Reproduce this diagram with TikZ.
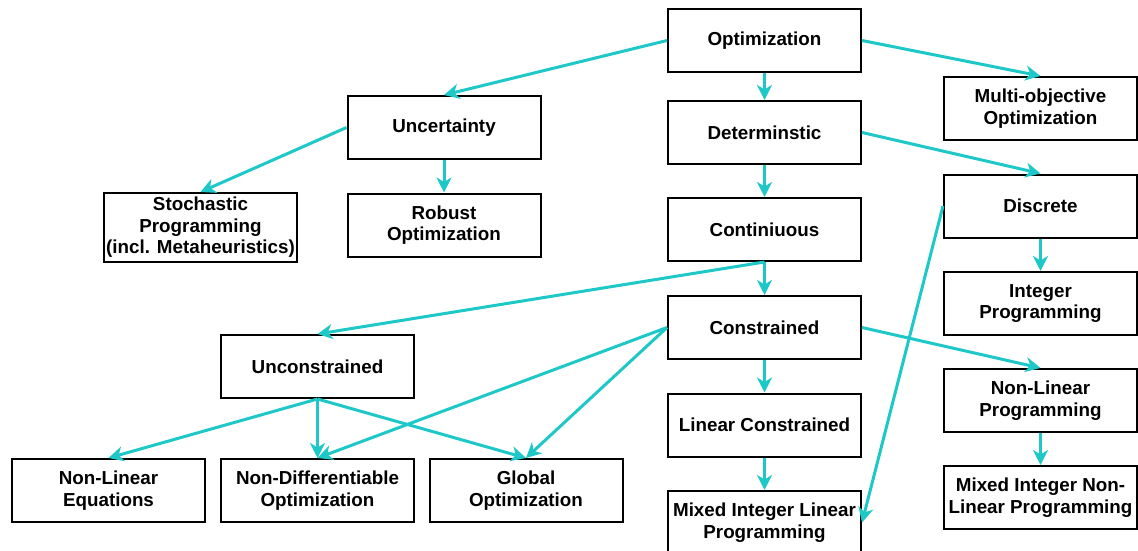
\documentclass[tikz,border=0pt]{standalone}
\usepackage{fontspec}
\setmainfont{Liberation Sans}
\usetikzlibrary{arrows.meta}
\definecolor{linkcol}{RGB}{30,200,200}
\begin{document}
\begin{tikzpicture}[x=1pt,y=-1pt,
  box/.style={draw=black,line width=2pt,fill=white,minimum width=193pt,minimum height=63pt,
    inner sep=0pt,align=center,font=\fontsize{18.8}{21.5}\selectfont\bfseries},
  link/.style={draw=linkcol,line width=3pt,-{Stealth[length=15pt,width=15pt,inset=4.5pt]}}]
\useasboundingbox (0,0) rectangle (1138,551);
% central column
\node[box] (opt)   at (764.5,40.5)  {Optimization};
\node[box] (det)   at (764.5,132.5) {Determinstic};
\node[box] (cont)  at (764.5,229.5) {Continiuous};
\node[box] (cons)  at (764.5,327.5) {Constrained};
\node[box] (lin)   at (764.5,425)   {Linear Constrained};
\node[box] (milp)  at (764.5,522.5) {Mixed Integer Linear\\Programming};
% right column
\node[box] (multi) at (1040.5,108.5) {Multi-objective\\Optimization};
\node[box] (disc)  at (1040.5,206)   {Discrete};
\node[box] (intp)  at (1040.5,303.5) {Integer\\Programming};
\node[box] (nlp)   at (1040.5,400.5) {Non-Linear\\Programming};
\node[box] (minlp) at (1040.5,497.5) {Mixed Integer Non-\\Linear Programming};
% uncertainty branch
\node[box] (unc)   at (444,127.5) {Uncertainty};
\node[box,minimum height=69pt] (stoch) at (200.5,227.5) {Stochastic\\Programming\\(incl. Metaheuristics)};
\node[box] (rob)   at (444,225)   {Robust\\Optimization};
% unconstrained branch
\node[box] (uncon) at (317.5,366.5) {Unconstrained};
\node[box] (nle)   at (108.5,490.5) {Non-Linear\\Equations};
\node[box] (nd)    at (317.5,490.5) {Non-Differentiable\\Optimization};
\node[box] (glob)  at (526,490.5)   {Global\\Optimization};
% connectors
\draw[link] (opt.west) -- (unc.north);
\draw[link] (opt.south) -- (det.north);
\draw[link] (opt.east) -- (multi.north);
\draw[link] (unc.west) -- (stoch.north);
\draw[link] (unc.south) -- (rob.north);
\draw[link] (det.east) -- (disc.north);
\draw[link] (det.south) -- (cont.north);
\draw[link] (cont.south) -- (cons.north);
\draw[link] (cont.south) -- (uncon.north);
\draw[link] (disc.south) -- (intp.north);
\draw[link] (disc.west) -- (milp.east);
\draw[link] (cons.east) -- (nlp.north);
\draw[link] (cons.south) -- (lin.north);
\draw[link] (lin.south) -- (milp.north);
\draw[link] (nlp.south) -- (minlp.north);
\draw[link] (cons.west) -- (nd.north);
\draw[link] (cons.west) -- (glob.north);
\draw[link] (uncon.south) -- (nle.north);
\draw[link] (uncon.south) -- (nd.north);
\draw[link] (uncon.south) -- (glob.north);
\end{tikzpicture}
\end{document}
